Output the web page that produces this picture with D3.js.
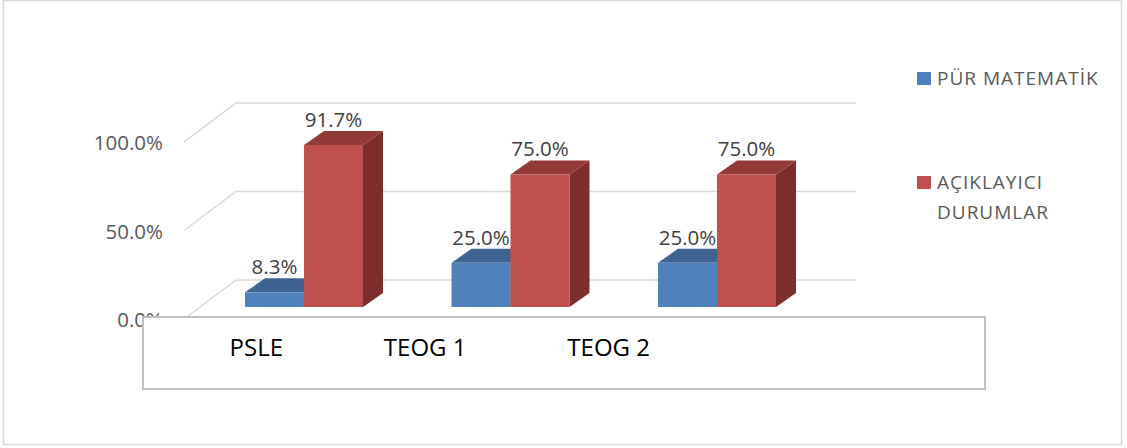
<!DOCTYPE html>
<html>
<head>
<meta charset="utf-8">
<script src="https://cdn.jsdelivr.net/npm/d3@7"></script>
<style>
  body { margin: 0; background: #fff; }
  text { font-family: "Open Sans", sans-serif; }
</style>
</head>
<body>
<div id="chart"></div>
<script>
// data
var categories = ["PSLE", "TEOG 1", "TEOG 2"];
var seriesNames = ["PÜR MATEMATİK", "AÇIKLAYICI DURUMLAR"];
var purMatematik = [0.083, 0.25, 0.25];
var aciklayici = [0.917, 0.75, 0.75];
var yTicks = [0, 0.5, 1];

var W = 1127, H = 448;
var colors = {
  front: ["#4f81bd", "#c0504d"],
  top: ["#3e6391", "#933a38"],
  side: ["#3a5e8c", "#7b2e2c"]
};
var depth = {dx: 20, dy: -14};     // bar depth
var wall = {dx: -52, dy: 39};       // back wall -> front edge

var svg = d3.select("#chart").append("svg")
  .attr("width", W).attr("height", H);

// outer frame
svg.append("rect")
  .attr("x", 3.5).attr("y", 0.5).attr("width", 1118).attr("height", 444)
  .attr("fill", "#fff").attr("stroke", "#d9d9d9").attr("stroke-width", 1.5);

// scales
var x = d3.scaleBand().domain(categories).range([245, 776]).paddingInner(0.4286).paddingOuter(0);
var xs = d3.scaleBand().domain([0, 1]).range([0, x.bandwidth()]);
var y = d3.scaleLinear().domain([0, 1]).range([307, 130.3]);
var yWall = d3.scaleLinear().domain([0, 1]).range([280, 103]);

// back wall gridlines
var grid = svg.append("g");
yTicks.forEach(function(t) {
  var gy = yWall(t);
  grid.append("path")
    .attr("d", "M" + (236 + wall.dx) + "," + (gy + wall.dy) + "L236," + gy + "H856")
    .attr("fill", "none").attr("stroke", "#d9d9d9").attr("stroke-width", 1.5);
});

// y tick labels
svg.append("g").selectAll("text")
  .data(yTicks).enter().append("text")
  .attr("x", 163)
  .attr("y", function(d) { return yWall(d) + wall.dy + 8; })
  .attr("text-anchor", "end")
  .attr("font-size", "20.5px")
  .attr("fill", "#595959")
  .text(function(d) { return d3.format(".1%")(d); });

// bars
var rows = categories.map(function(c, i) {
  return {cat: c, vals: [purMatematik[i], aciklayici[i]]};
});

var groups = svg.append("g").selectAll("g")
  .data(rows).enter().append("g")
  .attr("transform", function(d) { return "translate(" + x(d.cat) + ",0)"; });

groups.each(function(d) {
  var g = d3.select(this);
  d.vals.forEach(function(v, s) {
    var x0 = xs(s), x1 = xs(s) + xs.bandwidth();
    var y0 = y(0), y1 = y(v);
    // side face
    g.append("path")
      .attr("d", "M" + x1 + "," + y1 + "L" + (x1 + depth.dx) + "," + (y1 + depth.dy) +
        "L" + (x1 + depth.dx) + "," + (y0 + depth.dy) + "L" + x1 + "," + y0 + "Z")
      .attr("fill", colors.side[s]);
    // top face
    g.append("path")
      .attr("d", "M" + x0 + "," + y1 + "L" + (x0 + depth.dx) + "," + (y1 + depth.dy) +
        "L" + (x1 + depth.dx) + "," + (y1 + depth.dy) + "L" + x1 + "," + y1 + "Z")
      .attr("fill", colors.top[s]);
    // front face
    g.append("rect")
      .attr("x", x0).attr("y", y1)
      .attr("width", xs.bandwidth()).attr("height", y0 - y1)
      .attr("fill", colors.front[s]);
  });
});

// data labels
groups.each(function(d) {
  var g = d3.select(this);
  d.vals.forEach(function(v, s) {
    g.append("text")
      .attr("x", xs(s) + xs.bandwidth() / 2)
      .attr("y", y(v) + depth.dy - 4)
      .attr("text-anchor", "middle")
      .attr("font-size", "20.5px")
      .attr("fill", "#404040")
      .text(d3.format(".1%")(v));
  });
});

// category box
svg.append("rect")
  .attr("x", 143).attr("y", 317).attr("width", 842).attr("height", 72)
  .attr("fill", "#fff").attr("stroke", "#bfbfbf").attr("stroke-width", 2);

var xl = d3.scalePoint().domain(categories).range([283, 650]);
svg.append("g").selectAll("text")
  .data(categories).enter().append("text")
  .attr("x", function(d) { return xl(d); })
  .attr("y", 356)
  .attr("text-anchor", "end")
  .attr("font-size", "24px")
  .attr("fill", "#000")
  .text(function(d) { return d; });

// legend
var legendLines = [["PÜR MATEMATİK"], ["AÇIKLAYICI", "DURUMLAR"]];
var legendY = [72, 176];
var legend = svg.append("g");
seriesNames.forEach(function(name, s) {
  legend.append("rect")
    .attr("x", 917).attr("y", legendY[s]).attr("width", 14).attr("height", 13)
    .attr("fill", colors.front[s]);
  var t = legend.append("text")
    .attr("x", 937).attr("y", legendY[s] + 13)
    .attr("font-size", "19px")
    .attr("letter-spacing", "1px")
    .attr("fill", "#595959");
  legendLines[s].forEach(function(line, i) {
    t.append("tspan").attr("x", 937).attr("dy", i === 0 ? 0 : 30).text(line);
  });
});
</script>
</body>
</html>
